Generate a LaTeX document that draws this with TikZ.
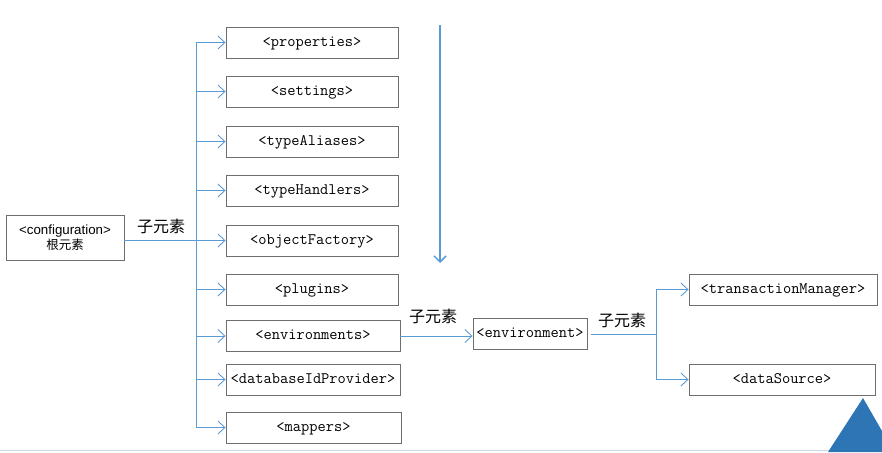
\documentclass[tikz,border=0pt]{standalone}
\usepackage{fontspec}
\setmainfont{Liberation Sans}
\newfontfamily\cjk{Noto Sans CJK SC}
\usetikzlibrary{arrows.meta,positioning}
\definecolor{linkblue}{RGB}{91,155,213}
\definecolor{boxgray}{RGB}{110,110,110}
\definecolor{cornerblue}{RGB}{46,117,182}
\definecolor{rulegray}{RGB}{205,216,228}
\begin{document}
\begin{tikzpicture}[x=1pt,y=-1pt,
  elem/.style={draw=boxgray, line width=0.9pt, fill=white, minimum width=172pt, minimum height=31pt,
    inner sep=0pt, text height=9pt, text depth=2pt, font=\ttfamily\fontsize{16}{17}\selectfont},
  link/.style={draw=linkblue, line width=0.9pt},
  linkarrow/.style={link, -{Straight Barb[length=7pt,width=13pt,line width=0.9pt]}},
  sublabel/.style={font=\cjk\fontsize{16}{17}\selectfont}]

\useasboundingbox (0,0) rectangle (882,452);

% root element
\node[draw=boxgray, line width=0.9pt, minimum width=118pt, minimum height=45pt, inner sep=0pt, align=center]
  (config) at (65,237.5) {\fontsize{13.3}{15}\selectfont <configuration>\\[1pt]{\cjk\fontsize{12.5}{15}\selectfont 根元素}};

% child elements
\node[elem] (props) at (312,42.5) {<properties>};
\node[elem] (sets) at (312,91.5) {<settings>};
\node[elem] (aliases) at (312,141.5) {<typeAliases>};
\node[elem] (handlers) at (312,190.5) {<typeHandlers>};
\node[elem] (factory) at (312,240.5) {<objectFactory>};
\node[elem] (plugs) at (312,289.5) {<plugins>};
\node[elem, minimum width=174pt] (envs) at (313,336) {<environments>};
\node[elem, minimum width=174pt] (dbid) at (313,379.5) {<databaseIdProvider>};
\node[elem, minimum width=175pt] (maps) at (313.5,427.5) {<mappers>};

% environment and its children
\node[elem, minimum width=114pt] (env) at (530,334) {<environment>};
\node[elem, minimum width=188pt] (txmgr) at (783,289.5) {<transactionManager>};
\node[elem, minimum width=186pt] (dsrc) at (782,379.5) {<dataSource>};

% trunk lines
\coordinate (trunk) at (196,0);
\coordinate (branch) at (656,0);
\draw[link] (props.west -| trunk) -- (maps.west -| trunk);
\draw[link] (config.east |- factory) -- (factory.west -| trunk);
\draw[linkarrow] (props.west -| trunk) -- (props.west);
\draw[linkarrow] (sets.west -| trunk) -- (sets.west);
\draw[linkarrow] (aliases.west -| trunk) -- (aliases.west);
\draw[linkarrow] (handlers.west -| trunk) -- (handlers.west);
\draw[linkarrow] (factory.west -| trunk) -- (factory.west);
\draw[linkarrow] (plugs.west -| trunk) -- (plugs.west);
\draw[linkarrow] (envs.west -| trunk) -- (envs.west);
\draw[linkarrow] (dbid.west -| trunk) -- (dbid.west);
\draw[linkarrow] (maps.west -| trunk) -- (maps.west);

\draw[linkarrow] (envs.east) -- (envs.east -| env.west);

\draw[link] ([xshift=4pt]env.east) -- (env.east -| branch);
\draw[link] (txmgr.west -| branch) -- (dsrc.west -| branch);
\draw[linkarrow] (txmgr.west -| branch) -- (txmgr.west);
\draw[linkarrow] (dsrc.west -| branch) -- (dsrc.west);

% labels
\node[sublabel] (lbl root) at (161,226) {子元素};
\node[sublabel] (lbl envs) at (433,316) {子元素};
\node[sublabel] (lbl env) at (622,320) {子元素};

% long down arrow
\coordinate (down start) at (440,25);
\coordinate (down end) at (440,263);
\draw[link, line width=1.5pt, -{Straight Barb[length=6pt,width=12pt,line width=1.5pt]}] (down start) -- (down end);

% corner decoration
\draw[rulegray, line width=1.2pt] (0,450.5) -- (882,450.5);
\fill[cornerblue] (828,452) -- (863,398) -- (882,431) -- (882,452) -- cycle;

\end{tikzpicture}
\end{document}
